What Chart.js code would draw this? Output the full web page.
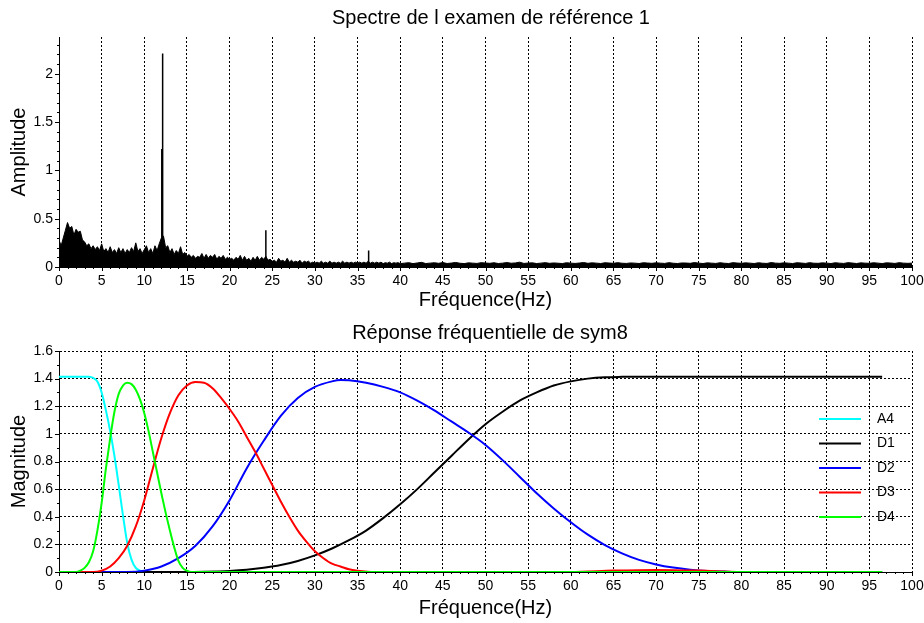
<!DOCTYPE html>
<html><head><meta charset="utf-8">
<script src="https://cdn.jsdelivr.net/npm/chart.js@4.4.1/dist/chart.umd.min.js"></script>
<style>
html,body{margin:0;padding:0;background:#fff;width:924px;height:623px;overflow:hidden;}
#c1{position:absolute;left:0;top:0;}
#c2{position:absolute;left:0;top:312px;}
</style></head><body>
<canvas id="c1" width="924" height="312"></canvas>
<canvas id="c2" width="924" height="311"></canvas>
<script>
// ---------- Top chart: spectrum (upper envelope of amplitude) ----------
// 0 .. 40 Hz, step 0.25 Hz
const specAmpLow = [
 0.28,0.22,0.30,0.38,0.46,0.40,0.42,0.33,0.39,0.36,0.37,0.28,0.26,0.22,0.24,0.19,0.22,0.18,0.21,0.17,0.24,
 0.16,0.19,0.15,0.21,0.15,0.18,0.14,0.20,0.15,0.19,0.14,0.18,0.15,0.20,0.16,0.25,0.16,0.19,0.14,0.18,
 0.22,0.15,0.19,0.14,0.22,0.17,0.24,0.30,0.32,0.20,0.22,0.15,0.19,0.13,0.17,0.14,0.21,0.13,0.15,0.11,
 0.13,0.10,0.12,0.09,0.11,0.10,0.14,0.09,0.13,0.09,0.12,0.10,0.13,0.08,0.11,0.09,0.12,0.08,0.10,0.08,
 0.09,0.07,0.10,0.08,0.12,0.07,0.11,0.07,0.09,0.06,0.10,0.07,0.11,0.07,0.10,0.08,0.11,0.07,0.08,0.06,
 0.07,0.05,0.09,0.06,0.07,0.05,0.09,0.05,0.07,0.05,0.06,0.05,0.07,0.04,0.06,0.05,0.06,0.04,0.05,0.04,
 0.05,0.04,0.06,0.04,0.05,0.04,0.06,0.04,0.05,0.04,0.05,0.04,0.06,0.04,0.05,0.04,0.05,0.04,0.05,0.04,
 0.05,0.04,0.05,0.04,0.06,0.04,0.05,0.04,0.05,0.04,0.05,0.035,0.045,0.04,0.05,0.035,0.045,0.04,0.045,0.035
];
// 40.5 .. 100 Hz, step 0.5 Hz
const specAmpHigh = [
 0.040,0.045,0.035,0.042,0.048,0.036,0.040,0.044,0.038,0.046,
 0.036,0.041,0.047,0.039,0.035,0.043,0.040,0.037,0.045,0.041,
 0.038,0.044,0.036,0.040,0.046,0.039,0.042,0.050,0.037,0.041,
 0.043,0.036,0.040,0.045,0.038,0.042,0.039,0.036,0.044,0.040,
 0.037,0.041,0.046,0.038,0.043,0.040,0.036,0.044,0.041,0.038,
 0.045,0.039,0.037,0.042,0.040,0.036,0.044,0.041,0.038,0.043,
 0.040,0.037,0.045,0.039,0.036,0.042,0.041,0.038,0.046,0.040,
 0.036,0.043,0.040,0.037,0.044,0.039,0.036,0.045,0.041,0.038,
 0.043,0.040,0.036,0.044,0.039,0.037,0.046,0.040,0.038,0.043,
 0.040,0.036,0.044,0.041,0.037,0.045,0.039,0.038,0.043,0.040,
 0.036,0.044,0.040,0.037,0.045,0.041,0.036,0.043,0.040,0.038,
 0.044,0.040,0.036,0.043,0.041,0.037,0.045,0.040,0.038,0.040
];
const spikeFreq = [12.05, 12.15, 24.25, 36.3];
const spikeAmp  = [1.22, 2.21, 0.38, 0.17];

// ---------- Bottom chart: frequency responses of sym8 ----------
const a4Freq = [0,1,2,3,3.5,4,4.5,5,5.5,6,6.5,7,7.5,8,8.5,9,9.5,10,96.5];
const a4Mag  = [1.414,1.414,1.414,1.414,1.413,1.405,1.38,1.30,1.17,1.02,0.84,0.63,0.41,0.21,0.09,0.03,0.01,0,0];

const d1Freq = [0,15,17,20,22,24,26,28,30,32,34,36,38,40,42,44,46,48,50,52,54,56,58,60,62,64,66,68,70,96.5];
const d1Mag  = [0,0,0.002,0.008,0.016,0.03,0.05,0.08,0.12,0.17,0.23,0.30,0.39,0.49,0.60,0.72,0.84,0.96,1.07,1.16,1.24,1.30,1.35,1.38,1.40,1.41,1.413,1.414,1.414,1.414];

const d2Freq = [0,8,10,12,14,16,18,20,22,24,26,28,30,32,33,34,36,38,40,42,44,46,48,50,52,54,56,58,60,62,64,66,68,70,72,74,76,78,80,96.5];
const d2Mag  = [0,0,0.01,0.04,0.10,0.19,0.33,0.52,0.75,0.95,1.13,1.26,1.34,1.38,1.39,1.388,1.37,1.34,1.30,1.24,1.17,1.09,1.01,0.92,0.81,0.69,0.57,0.46,0.36,0.27,0.195,0.135,0.088,0.055,0.032,0.017,0.008,0.003,0,0];

const d3Freq = [0,4,5,6,7,8,9,10,11,12,13,14,15,16,17,18,19,20,21,22,23,24,25,26,27,28,29,30,31,32,33,34,35,37,40,60,65,70,75,80,96.5];
const d3Mag  = [0,0,0.01,0.04,0.10,0.19,0.33,0.52,0.75,0.97,1.15,1.28,1.35,1.375,1.37,1.33,1.26,1.18,1.09,0.98,0.87,0.75,0.63,0.51,0.40,0.30,0.22,0.15,0.10,0.06,0.04,0.02,0.01,0,0,0,0.01,0.015,0.01,0,0];

const d4Freq = [0,2,2.5,3,3.5,4,4.5,5,5.5,6,6.5,7,7.5,8,8.5,9,9.5,10,10.5,11,11.5,12,12.5,13,13.5,14,14.5,15,15.5,96.5];
const d4Mag  = [0,0,0.01,0.03,0.07,0.15,0.30,0.50,0.75,0.97,1.16,1.29,1.35,1.37,1.36,1.32,1.25,1.15,1.02,0.87,0.72,0.57,0.43,0.30,0.18,0.08,0.03,0.01,0,0];

const seriesNames  = ['A4','D1','D2','D3','D4'];
const seriesColors = ['#00FFFF','#000000','#0000FF','#FF0000','#00FF00'];
const seriesFreqs  = [a4Freq,d1Freq,d2Freq,d3Freq,d4Freq];
const seriesMags   = [a4Mag,d1Mag,d2Mag,d3Mag,d4Mag];

const xTicks = {min:0, max:100, step:5};

// ---------- helpers ----------
const FONT = "'Liberation Sans', Arial, Helvetica, sans-serif";
Chart.defaults.font.family = FONT;
Chart.defaults.color = '#000';

const axisTicks = {
  id: 'axisTicks',
  afterDraw(chart, args, o) {
    const {ctx, chartArea: a, scales: {x, y}} = chart;
    ctx.save();
    ctx.strokeStyle = '#000'; ctx.lineWidth = 1;
    ctx.beginPath();
    const nx = Math.round((x.max - x.min) / o.xMinor);
    for (let i = 0; i <= nx; i++) {
      const v = x.min + i * o.xMinor;
      const px = Math.round(x.getPixelForValue(v)) + 0.5;
      const major = i % o.xPer === 0;
      ctx.moveTo(px, a.bottom); ctx.lineTo(px, a.bottom + (major ? 4 : 2));
    }
    const ny = Math.floor((y.max - y.min) / o.yMinor + 1e-6);
    for (let i = 0; i <= ny; i++) {
      const v = y.min + i * o.yMinor;
      const py = Math.round(y.getPixelForValue(v)) + 0.5;
      const major = i % o.yPer === 0;
      ctx.moveTo(a.left, py); ctx.lineTo(a.left - (major ? 4 : 2), py);
    }
    ctx.stroke();
    ctx.restore();
  }
};

const chartTitle = {
  id: 'chartTitle',
  afterDraw(chart, args, o) {
    const ctx = chart.ctx;
    ctx.save();
    ctx.fillStyle = '#000';
    ctx.font = '20px ' + FONT;
    ctx.textAlign = 'center'; ctx.textBaseline = 'middle';
    ctx.fillText(o.text, o.x, o.y);
    ctx.restore();
  }
};

const insideLegend = {
  id: 'insideLegend',
  afterDraw(chart, args, o) {
    const {ctx, chartArea: a} = chart;
    ctx.save();
    ctx.font = '14px ' + FONT;
    ctx.textAlign = 'left'; ctx.textBaseline = 'middle';
    seriesNames.forEach((name, i) => {
      const yy = a.top + o.top + i * o.gap;
      ctx.strokeStyle = seriesColors[i]; ctx.lineWidth = 2;
      ctx.beginPath(); ctx.moveTo(a.right - 93, yy); ctx.lineTo(a.right - 51, yy); ctx.stroke();
      ctx.fillStyle = '#000';
      ctx.fillText(name, a.right - 35, yy);
    });
    ctx.restore();
  }
};

function xScale(h, padBottom) {
  return {
    type: 'linear', min: xTicks.min, max: xTicks.max,
    afterFit(s) { s.height = h; s.paddingLeft = 0; s.paddingRight = 0; },
    ticks: {stepSize: xTicks.step, color: '#000', font: {size: 14}, padding: 6, maxRotation: 0, autoSkip: false},
    grid: {display: true, color: '#000', lineWidth: 1, drawTicks: false},
    border: {display: true, color: '#000', width: 1, dash: [2, 2]},
    title: {display: true, text: 'Fréquence(Hz)', color: '#000', font: {size: 20}, padding: {top: 0, bottom: padBottom}}
  };
}
const fmt = v => String(Math.round(v * 100) / 100);

// ---------- top chart ----------
const envPts = [];
specAmpLow.forEach((v, i) => envPts.push({x: i * 0.25, y: v}));
specAmpHigh.forEach((v, i) => envPts.push({x: 40.5 + i * 0.5, y: v}));
const spikePts = [];
spikeFreq.forEach((f, i) => { spikePts.push({x: f, y: 0}, {x: f, y: spikeAmp[i]}, {x: f, y: null}); });

new Chart(document.getElementById('c1'), {
  type: 'line',
  data: {datasets: [
    {data: spikePts, borderColor: '#000', borderWidth: 1.5, pointRadius: 0, fill: false, spanGaps: false},
    {data: envPts, borderColor: '#000', backgroundColor: '#000', borderWidth: 1, pointRadius: 0, fill: 'origin', tension: 0}
  ]},
  options: {
    responsive: false, animation: false, events: [],
    layout: {padding: {left: 0, right: 12, top: 37, bottom: 0}},
    plugins: {
      legend: {display: false}, tooltip: {enabled: false},
      chartTitle: {text: 'Spectre de l examen de référence 1', x: 491, y: 18},
      axisTicks: {xMinor: 1, xPer: 5, yMinor: 0.1, yPer: 5}
    },
    scales: {
      x: xScale(45, 0),
      y: {
        min: 0, max: 2.38,
        afterFit(s) { s.width = 59; },
        ticks: {stepSize: 0.5, includeBounds: false, color: '#000', font: {size: 14}, padding: 6, callback: fmt},
        grid: {display: false, drawTicks: false},
        border: {display: true, color: '#000', width: 1},
        title: {display: true, text: 'Amplitude', color: '#000', font: {size: 20}, padding: {top: 7, bottom: 0}}
      }
    }
  },
  plugins: [axisTicks, chartTitle]
});

// ---------- bottom chart ----------
new Chart(document.getElementById('c2'), {
  type: 'line',
  data: {datasets: seriesNames.map((name, i) => ({
    label: name,
    data: seriesFreqs[i].map((f, j) => ({x: f, y: seriesMags[i][j]})),
    borderColor: seriesColors[i], borderWidth: 2, pointRadius: 0, fill: false,
    cubicInterpolationMode: 'monotone', order: 4 - i
  }))},
  options: {
    responsive: false, animation: false, events: [],
    layout: {padding: {left: 0, right: 12, top: 39, bottom: 0}},
    plugins: {
      legend: {display: false}, tooltip: {enabled: false},
      chartTitle: {text: 'Réponse fréquentielle de sym8', x: 490, y: 21},
      insideLegend: {top: 68, gap: 24.5},
      axisTicks: {xMinor: 1, xPer: 5, yMinor: 0.1, yPer: 2}
    },
    scales: {
      x: xScale(51, 3),
      y: {
        min: 0, max: 1.6,
        afterFit(s) { s.width = 59; },
        ticks: {stepSize: 0.2, color: '#000', font: {size: 14}, padding: 6, callback: fmt},
        grid: {display: true, color: '#000', lineWidth: 1, drawTicks: false},
        border: {display: true, color: '#000', width: 1, dash: [2, 2]},
        title: {display: true, text: 'Magnitude', color: '#000', font: {size: 20}, padding: {top: 7, bottom: 0}}
      }
    }
  },
  plugins: [axisTicks, chartTitle, insideLegend]
});
</script></body></html>
